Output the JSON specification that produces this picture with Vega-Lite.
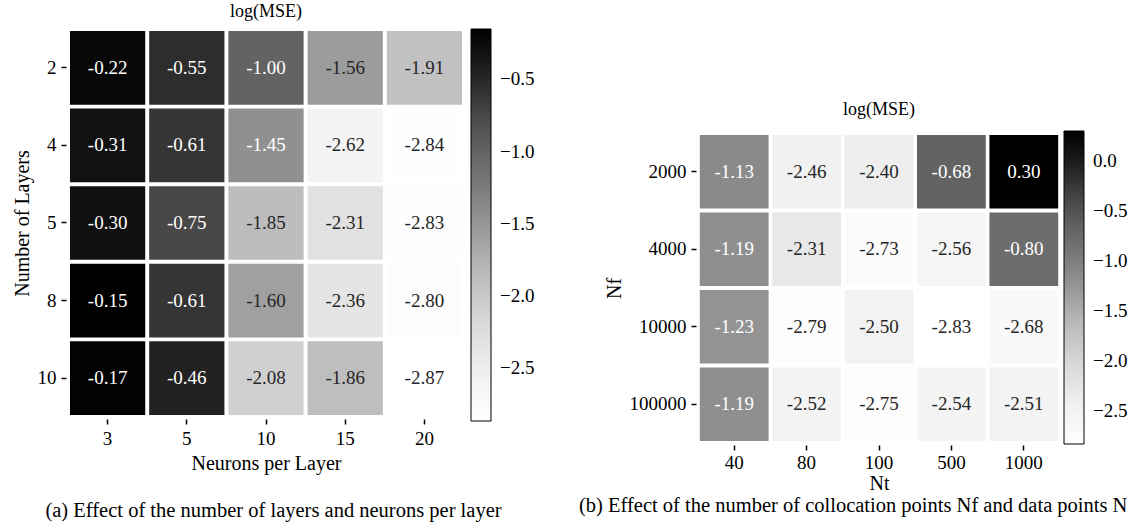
{
  "$schema": "https://vega.github.io/schema/vega-lite/v6.json",
  "padding": {"left": 12, "top": 3, "right": 0, "bottom": 0},
  "background": "white",
  "config": {
    "font": "Liberation Serif",
    "view": {"stroke": null},
    "axis": {"domain": false, "grid": false, "tickColor": "black", "tickWidth": 1.5, "tickSize": 5, "labelFontSize": 19, "titleFontSize": 20, "labelColor": "black", "titleColor": "black", "titleFontWeight": "normal", "labelPadding": 5, "titlePadding": 5, "offset": 2},
    "title": {"fontSize": 18, "fontWeight": "normal", "color": "black", "font": "Liberation Serif"},
    "legend": {"title": null, "gradientThickness": 20, "gradientStrokeColor": "black", "gradientStrokeWidth": 1, "labelFontSize": 19, "labelColor": "black", "offset": 7, "format": ".1f"}
  },
  "datasets": {
    "layers": [
      {"layers": 2, "neurons": 3, "v": -0.22}, {"layers": 2, "neurons": 5, "v": -0.55}, {"layers": 2, "neurons": 10, "v": -1.00}, {"layers": 2, "neurons": 15, "v": -1.56}, {"layers": 2, "neurons": 20, "v": -1.91},
      {"layers": 4, "neurons": 3, "v": -0.31}, {"layers": 4, "neurons": 5, "v": -0.61}, {"layers": 4, "neurons": 10, "v": -1.45}, {"layers": 4, "neurons": 15, "v": -2.62}, {"layers": 4, "neurons": 20, "v": -2.84},
      {"layers": 5, "neurons": 3, "v": -0.30}, {"layers": 5, "neurons": 5, "v": -0.75}, {"layers": 5, "neurons": 10, "v": -1.85}, {"layers": 5, "neurons": 15, "v": -2.31}, {"layers": 5, "neurons": 20, "v": -2.83},
      {"layers": 8, "neurons": 3, "v": -0.15}, {"layers": 8, "neurons": 5, "v": -0.61}, {"layers": 8, "neurons": 10, "v": -1.60}, {"layers": 8, "neurons": 15, "v": -2.36}, {"layers": 8, "neurons": 20, "v": -2.80},
      {"layers": 10, "neurons": 3, "v": -0.17}, {"layers": 10, "neurons": 5, "v": -0.46}, {"layers": 10, "neurons": 10, "v": -2.08}, {"layers": 10, "neurons": 15, "v": -1.86}, {"layers": 10, "neurons": 20, "v": -2.87}
    ],
    "points": [
      {"Nf": 2000, "Nt": 40, "v": -1.13}, {"Nf": 2000, "Nt": 80, "v": -2.46}, {"Nf": 2000, "Nt": 100, "v": -2.40}, {"Nf": 2000, "Nt": 500, "v": -0.68}, {"Nf": 2000, "Nt": 1000, "v": 0.30},
      {"Nf": 4000, "Nt": 40, "v": -1.19}, {"Nf": 4000, "Nt": 80, "v": -2.31}, {"Nf": 4000, "Nt": 100, "v": -2.73}, {"Nf": 4000, "Nt": 500, "v": -2.56}, {"Nf": 4000, "Nt": 1000, "v": -0.80},
      {"Nf": 10000, "Nt": 40, "v": -1.23}, {"Nf": 10000, "Nt": 80, "v": -2.79}, {"Nf": 10000, "Nt": 100, "v": -2.50}, {"Nf": 10000, "Nt": 500, "v": -2.83}, {"Nf": 10000, "Nt": 1000, "v": -2.68},
      {"Nf": 100000, "Nt": 40, "v": -1.19}, {"Nf": 100000, "Nt": 80, "v": -2.52}, {"Nf": 100000, "Nt": 100, "v": -2.75}, {"Nf": 100000, "Nt": 500, "v": -2.54}, {"Nf": 100000, "Nt": 1000, "v": -2.51}
    ]
  },
  "hconcat": [
    {
      "title": {"text": "(a) Effect of the number of layers and neurons per layer", "orient": "bottom", "anchor": "middle", "offset": 28, "fontSize": 20.5},
      "vconcat": [
        {
          "width": 396,
          "height": 388,
          "title": {"text": "log(MSE)", "offset": 8},
          "data": {"name": "layers"},
          "transform": [{"calculate": "replace(format(datum.v, '.2f'), '\u2212', '-')", "as": "label"}],
          "encoding": {
            "x": {"field": "neurons", "type": "ordinal", "scale": {"paddingInner": 0.05, "paddingOuter": 0.025}, "axis": {"title": "Neurons per Layer", "labelAngle": 0}},
            "y": {"field": "layers", "type": "ordinal", "scale": {"paddingInner": 0.05, "paddingOuter": 0.025}, "axis": {"title": "Number of Layers"}}
          },
          "layer": [
            {
              "mark": {"type": "rect"},
              "encoding": {
                "color": {"field": "v", "type": "quantitative",
                  "scale": {"domain": [-2.87, -2.53, -2.19, -1.85, -1.51, -1.17, -0.83, -0.49, -0.15], "range": ["#ffffff", "#f0f0f0", "#d9d9d9", "#bdbdbd", "#969696", "#737373", "#525252", "#252525", "#000000"], "interpolate": "rgb"},
                  "legend": {"values": [-0.5, -1.0, -1.5, -2.0, -2.5], "gradientLength": 392, "labelOffset": 9}}
              }
            },
            {
              "mark": {"type": "text", "fontSize": 19},
              "encoding": {
                "text": {"field": "label"},
                "color": {"condition": {"test": "datum.v > -1.5", "value": "white"}, "value": "#262626"}
              }
            }
          ]
        }
      ]
    },
    {
      "title": {"text": "(b) Effect of the number of collocation points Nf and data points N", "orient": "bottom", "anchor": "start", "offset": 3, "fontSize": 20.5, "dx": -25},
      "vconcat": [
        {
          "width": 362,
          "height": 414,
          "title": {"text": "log(MSE)", "offset": 8, "dy": 98},
          "data": {"name": "points"},
          "transform": [{"calculate": "replace(format(datum.v, '.2f'), '\u2212', '-')", "as": "label"}],
          "encoding": {
            "x": {"field": "Nt", "type": "ordinal", "scale": {"paddingInner": 0.05, "paddingOuter": 0.025}, "axis": {"title": "Nt", "labelAngle": 0, "titlePadding": 1, "labelPadding": 3}},
            "y": {"field": "Nf", "type": "ordinal", "scale": {"range": [104, 414], "paddingInner": 0.05, "paddingOuter": 0.025}, "axis": {"title": "Nf"}}
          },
          "layer": [
            {
              "mark": {"type": "rect"},
              "encoding": {
                "color": {"field": "v", "type": "quantitative",
                  "scale": {"domain": [-2.83, -2.43875, -2.0475, -1.65625, -1.265, -0.87375, -0.4825, -0.09125, 0.30], "range": ["#ffffff", "#f0f0f0", "#d9d9d9", "#bdbdbd", "#969696", "#737373", "#525252", "#252525", "#000000"], "interpolate": "rgb"},
                  "legend": {"values": [0.0, -0.5, -1.0, -1.5, -2.0, -2.5], "gradientLength": 313, "labelOffset": 9, "orient": "none", "legendX": 366, "legendY": 102}}
              }
            },
            {
              "mark": {"type": "text", "fontSize": 19},
              "encoding": {
                "text": {"field": "label"},
                "color": {"condition": {"test": "datum.v > -1.5", "value": "white"}, "value": "#262626"}
              }
            }
          ]
        }
      ]
    }
  ],
  "spacing": 44,
  "resolve": {"scale": {"color": "independent"}, "legend": {"color": "independent"}}
}
